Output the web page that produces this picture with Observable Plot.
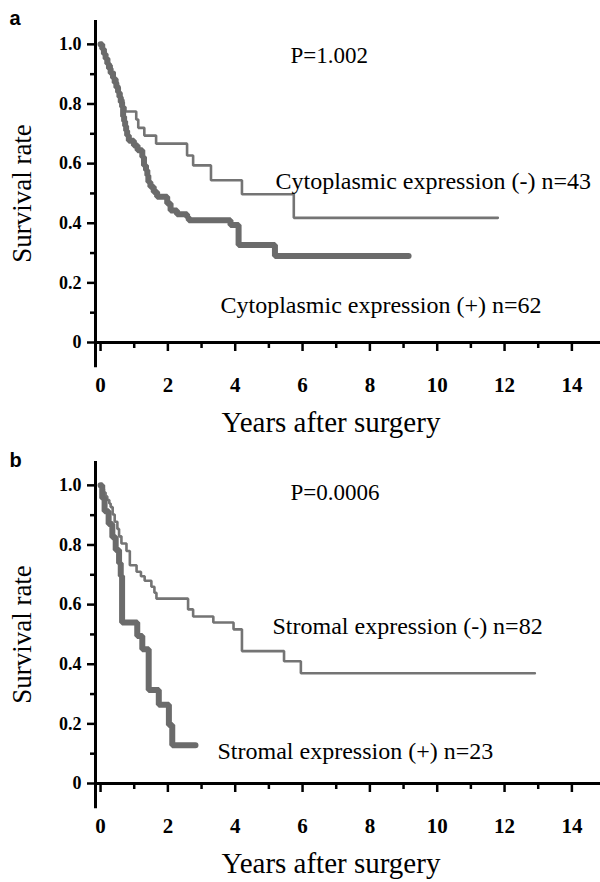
<!DOCTYPE html>
<html><head><meta charset="utf-8">
<script src="https://cdn.jsdelivr.net/npm/d3@7"></script>
<script src="https://cdn.jsdelivr.net/npm/@observablehq/plot@0.6"></script>
<style>
body{margin:0;background:#fff;}
#chart{width:600px;}
#chart svg{display:block;}
</style></head><body><div id="chart"></div>
<script>
// ---------- data ----------
// Panel a: cytoplasmic expression
const cytoNegTime = [0, 0.07, 0.15, 0.25, 0.33, 0.42, 0.5, 0.56, 0.62, 0.68, 0.74, 1.06, 1.12, 1.3, 1.65, 2.57, 2.75, 3.28, 4.2, 5.74];
const cytoNegSurv = [1.0, 0.977, 0.953, 0.93, 0.907, 0.884, 0.86, 0.837, 0.814, 0.79, 0.775, 0.748, 0.72, 0.694, 0.667, 0.627, 0.594, 0.544, 0.497, 0.418];
const cytoNegEnd = 11.8;
const cytoPosTime = [0, 0.05, 0.1, 0.15, 0.2, 0.25, 0.3, 0.37, 0.42, 0.47, 0.52, 0.56, 0.6, 0.64, 0.67, 0.7, 0.73, 0.76, 0.79, 0.84, 0.99, 1.1, 1.24, 1.29, 1.35, 1.39, 1.42, 1.48, 1.58, 1.68, 1.98, 2.08, 2.27, 2.57, 2.62, 3.86, 4.1, 5.18];
const cytoPosSurv = [1.0, 0.984, 0.968, 0.952, 0.935, 0.919, 0.903, 0.887, 0.871, 0.855, 0.839, 0.823, 0.806, 0.79, 0.758, 0.742, 0.726, 0.71, 0.694, 0.677, 0.661, 0.645, 0.622, 0.594, 0.578, 0.56, 0.538, 0.522, 0.505, 0.489, 0.466, 0.443, 0.43, 0.42, 0.41, 0.394, 0.327, 0.29];
const cytoPosEnd = 9.15;

// Panel b: stromal expression
const stroNegTime = [0, 0.05, 0.1, 0.15, 0.2, 0.26, 0.3, 0.36, 0.42, 0.5, 0.55, 0.62, 0.77, 0.87, 1.07, 1.2, 1.31, 1.51, 1.6, 1.66, 2.6, 2.75, 3.35, 3.95, 4.2, 5.45, 5.95];
const stroNegSurv = [1.0, 0.988, 0.976, 0.963, 0.951, 0.939, 0.927, 0.902, 0.878, 0.854, 0.829, 0.805, 0.78, 0.732, 0.71, 0.695, 0.68, 0.66, 0.64, 0.62, 0.584, 0.56, 0.54, 0.517, 0.444, 0.41, 0.37];
const stroNegEnd = 12.9;
const stroPosTime = [0, 0.05, 0.12, 0.24, 0.35, 0.45, 0.55, 0.6, 0.64, 1.09, 1.24, 1.43, 1.73, 2.03, 2.13];
const stroPosSurv = [1.0, 0.957, 0.913, 0.87, 0.826, 0.783, 0.739, 0.696, 0.54, 0.495, 0.45, 0.314, 0.264, 0.196, 0.128];
const stroPosEnd = 2.82;

// Axis ticks and labels
const xMajorTicks = [0, 2, 4, 6, 8, 10, 12, 14];
const xMinorTicks = [1, 3, 5, 7, 9, 11, 13];
const yMajorTicks = [0, 0.2, 0.4, 0.6, 0.8, 1.0];
const yTickLabels = ["0", "0.2", "0.4", "0.6", "0.8", "1.0"];
const yMinorTicks = [0.1, 0.3, 0.5, 0.7, 0.9];
const xDomain = [-0.15, 14.85];
const yDomain = [0, 1.08];
const yAxisExtent = [-0.085, 1.08];
const xLabel = "Years after surgery";
const yLabel = "Survival rate";

const panelLetters = ["a", "b"];
const pValues = ["P=1.002", "P=0.0006"];
const negLabels = ["Cytoplasmic expression (-) n=43", "Stromal expression (-) n=82"];
const posLabels = ["Cytoplasmic expression (+) n=62", "Stromal expression (+) n=23"];

// ---------- drawing ----------
const SERIF = '"Liberation Serif", "Times New Roman", Times, serif';
const SANS = '"Liberation Sans", Arial, sans-serif';
const GREY = "#6b6b6b";

function curve(times, surv, end) {
  const rows = times.map((t, i) => ({t, s: surv[i]}));
  rows.push({t: end, s: surv[surv.length - 1]});
  return rows;
}

function panel(i, neg, pos) {
  return Plot.plot({
    width: 600, height: 441,
    marginLeft: 95, marginRight: 0, marginTop: 20, marginBottom: 99,
    x: {domain: xDomain},
    y: {domain: yDomain},
    style: {fontFamily: SERIF, background: "white", color: "black", overflow: "visible"},
    marks: [
      Plot.line(neg, {x: "t", y: "s", curve: "step-after", stroke: "#747474", strokeWidth: 2.6, strokeLinejoin: "miter"}),
      Plot.line(pos, {x: "t", y: "s", curve: "step-after", stroke: GREY, strokeWidth: 6, strokeLinejoin: "miter"}),
      Plot.ruleX([xDomain[0]], {y1: yAxisExtent[0], y2: yAxisExtent[1], strokeWidth: 3, stroke: "black"}),
      Plot.ruleY([0], {x1: xDomain[0], x2: xDomain[1], strokeWidth: 3, stroke: "black"}),
      Plot.axisX({ticks: xMinorTicks, tickSize: 6, strokeWidth: 2.5, tickFormat: () => "", label: null}),
      Plot.axisX({ticks: xMajorTicks, tickSize: 9, strokeWidth: 2.5, tickPadding: 26, fontSize: 21, fontWeight: "bold", label: null}),
      Plot.axisY({ticks: yMinorTicks, tickSize: 5, strokeWidth: 2.5, tickFormat: () => "", label: null}),
      Plot.axisY({ticks: yMajorTicks, tickSize: 8, strokeWidth: 2.5, tickPadding: 6, fontSize: 18, fontWeight: "bold",
        tickFormat: d => yTickLabels[yMajorTicks.indexOf(d)], label: null}),
      Plot.text([yLabel], {frameAnchor: "left", textAnchor: "middle", rotate: -90, dx: -73, dy: 12, fontSize: 27}),
      Plot.text([xLabel], {frameAnchor: "bottom", dx: -17, dy: 89, fontSize: 29}),
      Plot.text([panelLetters[i]], {frameAnchor: "top-left", textAnchor: "start", dx: -86, dy: i === 0 ? -10 : -9, fontSize: 20, fontWeight: "bold", fontFamily: SANS}),
      Plot.text([pValues[i]], {frameAnchor: "top-left", textAnchor: "start", dx: 195, dy: i === 0 ? 26 : 22, fontSize: 23}),
      Plot.text([negLabels[i]], {frameAnchor: "top-left", textAnchor: "start", dx: i === 0 ? 180 : 177, dy: i === 0 ? 151 : 155, fontSize: 24}),
      Plot.text([posLabels[i]], {frameAnchor: "top-left", textAnchor: "start", dx: i === 0 ? 125 : 122, dy: i === 0 ? 275 : 280, fontSize: 24})
    ]
  });
}

const chart = document.getElementById("chart");
chart.append(panel(0, curve(cytoNegTime, cytoNegSurv, cytoNegEnd), curve(cytoPosTime, cytoPosSurv, cytoPosEnd)));
chart.append(panel(1, curve(stroNegTime, stroNegSurv, stroNegEnd), curve(stroPosTime, stroPosSurv, stroPosEnd)));
</script>
</body></html>
